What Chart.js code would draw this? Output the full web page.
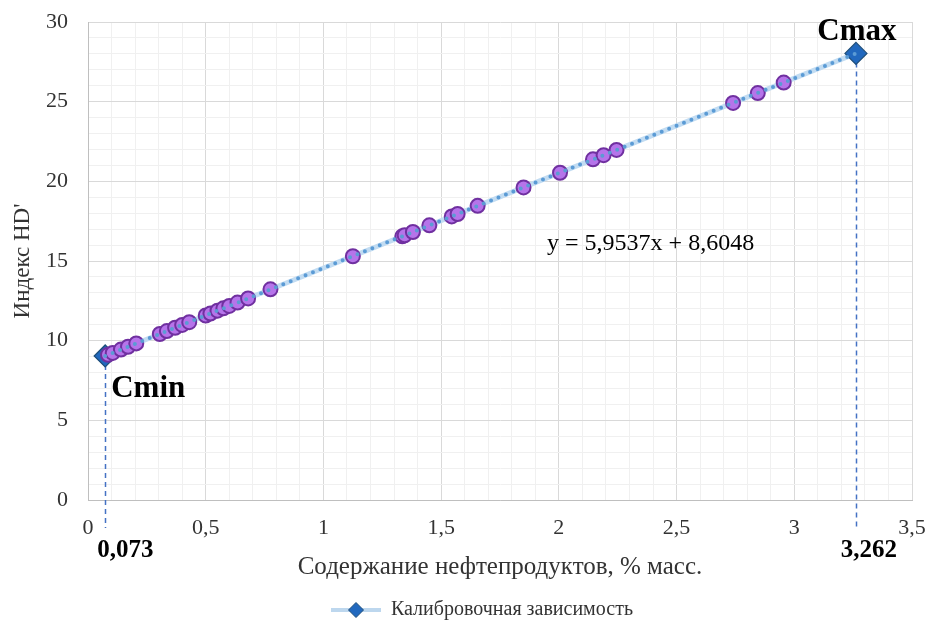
<!DOCTYPE html>
<html>
<head>
<meta charset="utf-8">
<script src="https://cdn.jsdelivr.net/npm/chart.js@4.4.1/dist/chart.umd.min.js"></script>
<style>
  html, body { margin: 0; padding: 0; background: #ffffff; }
  #wrap { width: 930px; height: 622px; }
</style>
</head>
<body>
<div id="wrap"><canvas id="chart" width="930" height="622"></canvas></div>
<script>
// Calibration endpoints: content of oil products, % mass, and HD' index
const calibX = [0.073, 3.262];
const calibY = [9.04, 28.03];
const calibNames = ['Cmin', 'Cmax'];
const calibValueLabels = ['0,073', '3,262'];
const seriesName = 'Калибровочная зависимость';

// Measured samples
const sampleX = [0.085, 0.105, 0.14, 0.17, 0.205,
                 0.305, 0.335, 0.37, 0.40, 0.43,
                 0.50, 0.52, 0.55, 0.575, 0.60, 0.635, 0.68,
                 0.775, 1.125,
                 1.335, 1.345, 1.38, 1.45, 1.545, 1.57, 1.655,
                 1.85, 2.005, 2.145, 2.19, 2.245,
                 2.74, 2.845, 2.955];
const sampleY = [9.11, 9.23, 9.44, 9.62, 9.83,
                 10.42, 10.60, 10.81, 10.99, 11.16,
                 11.58, 11.70, 11.88, 12.03, 12.18, 12.39, 12.65,
                 13.22, 15.30,
                 16.55, 16.61, 16.82, 17.24, 17.80, 17.95, 18.46,
                 19.62, 20.54, 21.38, 21.64, 21.97,
                 24.92, 25.54, 26.20];

// Linear trend y = a*x + b
const trendSlope = 5.9537;
const trendIntercept = 8.6048;
const trendText = 'y = 5,9537x + 8,6048';
const trendLabelAt = [1.95, 16.07];

// Axis ticks
const xTickLabels = ['0', '0,5', '1', '1,5', '2', '2,5', '3', '3,5'];
const yTickLabels = ['0', '5', '10', '15', '20', '25', '30'];
const xTitle = 'Содержание нефтепродуктов, % масс.';
const yTitle = "Индекс HD'";

const SERIF = "'Liberation Serif', 'Times New Roman', serif";
const TXT = '#333333';

const trendPoints = calibX.map(v => ({ x: v, y: trendSlope * v + trendIntercept }));
const calibPoints = calibX.map((v, i) => ({ x: v, y: calibY[i] }));
const samplePoints = sampleX.map((v, i) => ({ x: v, y: sampleY[i] }));

// Legend icon: light-blue line with a diamond marker (left part kept empty)
const ICON_GAP = 52, ICON_LINE = 50;
function legendIcon() {
  const c = document.createElement('canvas');
  c.width = ICON_GAP + ICON_LINE; c.height = 22;
  const g = c.getContext('2d');
  const cx = ICON_GAP + ICON_LINE / 2;
  g.strokeStyle = '#bdd7ee';
  g.lineWidth = 4;
  g.beginPath(); g.moveTo(ICON_GAP, 11); g.lineTo(ICON_GAP + ICON_LINE, 11); g.stroke();
  g.fillStyle = '#2168be';
  g.strokeStyle = '#1f4e79';
  g.lineWidth = 1;
  g.beginPath();
  g.moveTo(cx, 3.5); g.lineTo(cx + 7.5, 11); g.lineTo(cx, 18.5); g.lineTo(cx - 7.5, 11); g.closePath();
  g.fill(); g.stroke();
  return c;
}
const icon = legendIcon();

const isStep = (v, s) => Math.abs(v / s - Math.round(v / s)) < 1e-6;

// Dashed drop lines from the calibration endpoints to below the x axis
const dropLines = {
  id: 'dropLines',
  beforeDatasetsDraw(chart) {
    const { ctx, scales: { x, y }, chartArea } = chart;
    ctx.save();
    ctx.strokeStyle = '#4472c4';
    ctx.lineWidth = 1.5;
    ctx.setLineDash([5, 4]);
    calibPoints.forEach(p => {
      const px = Math.round(x.getPixelForValue(p.x)) + 0.5;
      ctx.beginPath();
      ctx.moveTo(px, y.getPixelForValue(p.y));
      ctx.lineTo(px, chartArea.bottom + 28);
      ctx.stroke();
    });
    ctx.restore();
  }
};

// Text annotations: endpoint names, endpoint values, trend equation
const annotations = {
  id: 'annotations',
  afterDatasetsDraw(chart) {
    const { ctx, scales: { x, y }, chartArea } = chart;
    ctx.save();
    ctx.fillStyle = '#000000';
    ctx.textBaseline = 'middle';
    const p0x = x.getPixelForValue(calibX[0]), p0y = y.getPixelForValue(calibY[0]);
    const p1x = x.getPixelForValue(calibX[1]), p1y = y.getPixelForValue(calibY[1]);

    ctx.font = 'bold 31px ' + SERIF;
    ctx.textAlign = 'left';
    ctx.fillText(calibNames[0], p0x + 6, p0y + 33);
    ctx.textAlign = 'center';
    ctx.fillText(calibNames[1], p1x + 1, p1y - 21);

    ctx.font = 'bold 25px ' + SERIF;
    ctx.textAlign = 'left';
    ctx.fillText(calibValueLabels[0], p0x - 8, chartArea.bottom + 51);
    ctx.textAlign = 'right';
    ctx.fillText(calibValueLabels[1], p1x + 41, chartArea.bottom + 51);

    ctx.font = '24px ' + SERIF;
    ctx.textAlign = 'left';
    ctx.fillText(trendText, x.getPixelForValue(trendLabelAt[0]), y.getPixelForValue(trendLabelAt[1]));
    ctx.restore();
  }
};

new Chart(document.getElementById('chart'), {
  type: 'scatter',
  data: {
    datasets: [
      {
        label: 'trend',
        data: trendPoints,
        showLine: true,
        borderColor: '#5b9bd5',
        borderWidth: 4,
        borderDash: [0, 8],
        borderCapStyle: 'round',
        pointRadius: 0,
        pointHoverRadius: 0,
        order: 0
      },
      {
        label: 'samples',
        data: samplePoints,
        backgroundColor: '#b674ea',
        borderColor: '#7030a0',
        borderWidth: 2,
        pointRadius: 7,
        pointHoverRadius: 7,
        order: 1
      },
      {
        label: seriesName,
        data: calibPoints,
        showLine: true,
        borderColor: '#c2dcf2',
        borderWidth: 5,
        backgroundColor: '#2168be',
        pointBorderColor: '#1f4e79',
        pointBorderWidth: 1.2,
        pointStyle: 'rectRot',
        pointRadius: 11,
        pointHoverRadius: 11,
        order: 2
      }
    ]
  },
  options: {
    responsive: false,
    animation: false,
    layout: { padding: { left: 0, right: 18, top: 22, bottom: -8 } },
    plugins: {
      tooltip: { enabled: false },
      legend: {
        position: 'bottom',
        labels: {
          usePointStyle: true,
          pointStyleWidth: ICON_GAP + ICON_LINE,
          padding: 0,
          color: TXT,
          font: { family: SERIF, size: 20 },
          generateLabels(chart) {
            return Chart.defaults.plugins.legend.labels.generateLabels(chart)
              .filter(it => it.text === seriesName)
              .map(it => Object.assign(it, { pointStyle: icon }));
          }
        }
      }
    },
    scales: {
      x: {
        type: 'linear',
        min: 0,
        max: 3.5,
        afterFit(scale) { scale.height = 100; },
        ticks: {
          stepSize: 0.1,
          autoSkip: false,
          maxRotation: 0,
          padding: 0,
          color: TXT,
          font: { family: SERIF, size: 22 },
          callback(v) { return isStep(v, 0.5) ? xTickLabels[Math.round(v / 0.5)] : ''; }
        },
        grid: {
          drawTicks: true,
          tickLength: 15,
          tickColor: 'rgba(0,0,0,0)',
          color(ctx) { return ctx.tick && isStep(ctx.tick.value, 0.5) ? '#d9d9d9' : '#f0f0f0'; }
        },
        border: { color: '#bfbfbf' },
        title: {
          display: true,
          text: xTitle,
          color: TXT,
          font: { family: SERIF, size: 25 },
          padding: { top: 0, bottom: 18 }
        }
      },
      y: {
        type: 'linear',
        min: 0,
        max: 30,
        afterFit(scale) { scale.width = 88; },
        ticks: {
          stepSize: 1,
          autoSkip: false,
          padding: 0,
          color: TXT,
          font: { family: SERIF, size: 22 },
          callback(v) { return isStep(v, 5) ? yTickLabels[Math.round(v / 5)] : ''; }
        },
        grid: {
          drawTicks: true,
          tickLength: 20,
          tickColor: 'rgba(0,0,0,0)',
          color(ctx) { return ctx.tick && isStep(ctx.tick.value, 5) ? '#d9d9d9' : '#f0f0f0'; }
        },
        border: { color: '#bfbfbf' },
        title: {
          display: true,
          text: yTitle,
          color: TXT,
          font: { family: SERIF, size: 23 },
          padding: { top: 9, bottom: 0 }
        }
      }
    }
  },
  plugins: [dropLines, annotations]
});
</script>
</body>
</html>
